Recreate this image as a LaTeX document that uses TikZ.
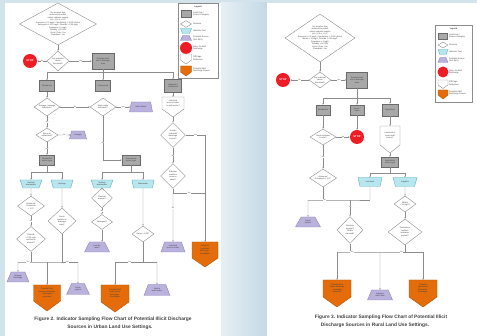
\documentclass[tikz,border=0pt]{standalone}
\usepackage{fontspec}
\setmainfont{Liberation Sans}
\usetikzlibrary{shapes.geometric,arrows.meta}

\definecolor{bgblue}{HTML}{D3E3EC}
\definecolor{gapl}{HTML}{E6EFF4}
\definecolor{gapr}{HTML}{C4D9E5}
\definecolor{linegray}{HTML}{8C8C8C}
\definecolor{txtgray}{HTML}{404040}
\definecolor{boxgray}{HTML}{A8A8A8}
\definecolor{boxedge}{HTML}{6A6A6A}
\definecolor{cyanfill}{HTML}{B8E6EE}
\definecolor{cyanedge}{HTML}{5DB3C6}
\definecolor{purplefill}{HTML}{BAB2DC}
\definecolor{purpleedge}{HTML}{8A82B8}
\definecolor{stopred}{HTML}{EE1C24}
\definecolor{orangefill}{HTML}{E46C0A}
\definecolor{orangeedge}{HTML}{B65508}

\newcommand{\nodefont}{\fontsize{2}{2.5}\selectfont}
\newcommand{\labfont}{\fontsize{1.8}{2}\selectfont}
\newcommand{\legfont}{\fontsize{2.1}{2.6}\selectfont}
\newcommand{\capfont}{\fontsize{4.85}{5.6}\selectfont\bfseries}
\newcommand{\stopfont}{\fontsize{2.6}{3}\selectfont\bfseries}

% shield: #1 name, #2 x, #3 top, #4 width, #5 body height, #6 point depth, #7 style, #8 text
\newcommand{\shieldnode}[8]{%
  \path[#7] ({#2-#4/2},#3) -- ({#2+#4/2},#3) -- ({#2+#4/2},{#3+#5})
    -- (#2,{#3+#5+#6}) -- ({#2-#4/2},{#3+#5}) -- cycle;
  \node[base, minimum width=#4pt, minimum height=#5pt, anchor=north] (#1) at (#2,#3) {#8};
  \coordinate (#1-tip) at (#2,{#3+#5+#6});
}

\tikzset{
  base/.style={inner sep=0pt, align=center, font=\nodefont, text=txtgray},
  sz/.style 2 args={minimum width=#1pt, minimum height=#2pt},
  procbox/.style={base, rectangle, fill=boxgray, draw=boxedge, line width=0.4pt},
  decision/.style={base, diamond, fill=white, draw=linegray, line width=0.4pt},
  dtext/.style={base},
  stopsign/.style={base, circle, fill=stopred, text=white, font=\stopfont, minimum size=14pt},
  landuse/.style={base, inner sep=0.2pt, trapezium, shape border rotate=180, trapezium stretches=true,
    trapezium left angle=65, trapezium right angle=65, fill=cyanfill, draw=cyanedge, line width=0.4pt},
  source/.style={base, inner sep=0.2pt, trapezium, trapezium stretches=true,
    trapezium left angle=60, trapezium right angle=60, fill=purplefill, draw=purpleedge, line width=0.4pt},
  orangeshield/.style={fill=orangefill, draw=orangeedge, line width=0.4pt},
  whiteshield/.style={fill=white, draw=linegray, line width=0.4pt},
  flow/.style={draw=linegray, line width=0.45pt, -{Stealth[length=1.6pt,width=1.4pt]}},
  plain/.style={draw=linegray, line width=0.45pt},
  yn/.style={font=\labfont, fill=white, inner sep=0.3pt, text=txtgray},
  legtext/.style={base, font=\legfont, anchor=west, align=left},
  capt/.style={font=\capfont, text=txtgray, inner sep=0pt},
}

\begin{document}
\begin{tikzpicture}[x=1pt, y=-1pt]
\useasboundingbox (0,0) rectangle (477,336);
% page background and the two white panels
\fill[bgblue] (0,0) rectangle (477,336);
\shade[left color=gapl, right color=gapr] (221,3) rectangle (267,336);
\fill[white] (5,3) rectangle (221,336);
\fill[white] (267,3) rectangle (477,336);

% ================= Urban land use chart =================
\node[decision, sz={77}{42}] (D0) at (58,24) {};
\node[dtext] at (D0) {Dry weather flow\\observed at outfall;\\collect indicator sample\\pH < 6.5 or > 8.5\\Ammonia > 0.5 mg/L; Conductivity > 2,000 µS/cm\\Detergents > 0.25 mg/L; Fluoride > 0.25 mg/L\\Potassium > 5 mg/L\\Turbidity > 50 NTU\\Color / Odor: Yes\\Floatables: Yes};
\node[decision, sz={22}{20}] (D1) at (58,61) {};
\node[dtext] at (D1) {Any indicator\\above\\threshold?};
\node[stopsign] (S0) at (30,61) {STOP};
\node[procbox, sz={22}{16}] (B0) at (103,61) {Evaluate land\\use in drainage\\area};
\coordinate (j1) at (103,72);
\node[procbox, sz={15}{11}] (B1) at (47,86) {Residential};
\node[procbox, sz={15}{11}] (B2) at (103,86) {Commercial};
\node[procbox, sz={17}{13}] (B3) at (173,86) {Industrial /\\Institutional};

\node[decision, sz={26}{18}] (D2) at (47,107) {};
\node[dtext] at (D2) {Sewage / septage\\indicators?};
\node[decision, sz={26}{18}] (D3) at (103,107) {};
\node[dtext] at (D3) {Wash water\\indicators?};
\node[source, sz={23}{10}] (P1) at (141,107) {Wash Water};
\shieldnode{S1}{173}{97}{22}{12}{8}{whiteshield}{Industrial\\process water\\or spill source?}

\node[decision, sz={22}{14}] (D4) at (47,135) {};
\node[dtext] at (D4) {Boron or\\surfactants?};
\node[source, sz={17}{8}] (P2) at (78,135) {Sewage};
\node[procbox, sz={15}{10}] (B4) at (47,160) {Residential\\source type};
\coordinate (j2) at (47,172);
\node[landuse, sz={22}{8}] (C1) at (31,184) {Sanitary\\wastewater};
\node[landuse, sz={22}{8}] (C2) at (62,184) {Septage};

\node[procbox, sz={18}{10}] (B5) at (131,160) {Commercial\\source type};
\coordinate (j4) at (131,172);
\node[landuse, sz={22}{8}] (C3) at (102,184) {Sanitary\\wastewater};
\node[landuse, sz={22}{8}] (C4) at (143,184) {Washwater};

\node[decision, sz={25}{25}] (D5) at (173,135) {};
\node[dtext] at (D5) {Known\\industrial\\discharge\\in area?};
\node[decision, sz={25}{25}] (D6) at (173,176) {};
\node[dtext] at (D6) {Indicator\\matches\\process\\water?};
\coordinate (k1) at (173,193);
\node[source, sz={24}{10}] (P7) at (173,247) {Industrial\\process water};
\shieldnode{O3}{205}{242}{26}{16}{9}{orangeshield}{Potential\\industrial\\discharge -\\investigate}

\node[decision, sz={27}{20}] (D7) at (31,206) {};
\node[dtext] at (D7) {Ammonia/\\Potassium\\> 1.0?};
\node[decision, sz={29}{25}] (D8) at (31,239) {};
\node[dtext] at (D8) {Fluoride\\> 0.25 mg/L\\and boron\\present?};
\node[decision, sz={28}{26}] (D9) at (62,221) {};
\node[dtext] at (D9) {Septic\\systems in\\drainage\\area?};
\node[decision, sz={21}{20}] (D10) at (102,198) {};
\node[dtext] at (D10) {Fluoride\\present?};
\node[decision, sz={21}{15}] (D11) at (102,222) {};
\node[dtext] at (D11) {Detergent?};
\node[source, sz={25}{10}] (P3) at (97,247) {Laundry\\water};
\node[decision, sz={22}{16}] (D12) at (143,234) {};
\node[dtext] at (D12) {Boron > 0.35?};

\coordinate (j3a) at (18,262);
\coordinate (j3b) at (47,262);
\coordinate (j3c) at (78,262);
\node[source, sz={22}{10}] (P4) at (18,277) {Sewage\\discharge};
\shieldnode{O1}{47}{285}{27}{16}{10}{orangeshield}{Potential illicit\\sewage discharge\\- investigate\\upstream}
\node[source, sz={23}{11}] (P5) at (78,289) {Septic\\system};
\coordinate (j5a) at (115,262);
\coordinate (j5b) at (157,262);
\shieldnode{O2}{115}{285}{28}{17}{10}{orangeshield}{Potential illicit\\wash water\\discharge -\\investigate}
\node[source, sz={26}{11}] (P6) at (157,290) {Vehicle\\wash water};

% urban connectors
\draw[flow] (D0.south) -- (D1.north);
\draw[flow] (D1.west) -- node[yn]{No} (S0.east);
\draw[flow] (D1.east) -- node[yn]{Yes} (B0.west);
\draw[plain] (B0.south) -- (j1);
\draw[flow] (j1) -| (B1.north);
\draw[flow] (j1) -- (B2.north);
\draw[flow] (j1) -| (B3.north);
\draw[flow] (B1.south) -- (D2.north);
\draw[flow] (D2.east) -- node[yn]{No} (D3.west);
\draw[flow] (D3.east) -- node[yn]{Yes} (P1.west);
\draw[flow] (B3.south) -- (S1.north);
\draw[flow] (S1-tip) -- (D5.north);
\draw[flow] (D2.south) -- node[yn]{Yes} (D4.north);
\draw[flow] (D4.east) -- node[yn]{No} (P2.west);
\draw[flow] (D4.south) -- node[yn]{Yes} (B4.north);
\draw[plain] (B4.south) -- (j2);
\draw[flow] (j2) -| (C1.north);
\draw[flow] (j2) -| (C2.north);
\draw[flow] (D3.south) |- node[yn,pos=0.3]{No} (B5.west);
\draw[plain] (B5.south) -- (j4);
\draw[flow] (j4) -| (C3.north);
\draw[flow] (j4) -| (C4.north);
\draw[flow] (D5.east) -| node[yn,pos=0.25]{Yes} (O3.north);
\draw[flow] (D5.south) -- node[yn]{No} (D6.north);
\draw[plain] (D6.south) -- (k1);
\draw[plain] (k1) -- node[yn]{Yes} (k1 -| O3.north);
\draw[flow] (k1) -- node[yn,pos=0.3]{No} (P7.north);
\draw[flow] (C1.south) -- (D7.north);
\draw[flow] (D7.south) -- node[yn]{No} (D8.north);
\draw[plain] (D8.south) -- (D8.south |- j3a);
\draw[flow] (C2.south) -- (D9.north);
\draw[plain] (D9.south) -- (D9.south |- j3a);
\draw[plain] (j3a) -- node[yn,pos=0.35]{Yes} (j3b) -- node[yn,pos=0.65]{No} (j3c);
\draw[flow] (j3a) -- (P4.north);
\draw[flow] (j3b) -- (O1.north);
\draw[flow] (j3c) -- (P5.north);
\draw[flow] (C3.south) -- (D10.north);
\draw[flow] (D10.south) -- node[yn]{No} (D11.north);
\draw[flow] (D11.south) -- (D11.south |- P3.north);
\draw[flow] (C4.south) -- (D12.north);
\draw[plain] (D12.south) -- (D12.south |- j5a);
\draw[plain] (j5a) -- node[yn,pos=0.35]{Yes} (j5b);
\draw[flow] (j5a) -- (O2.north);
\draw[flow] (j5b) -- (P6.north);

% urban legend
\draw[linegray, line width=0.4pt, fill=white] (178,3) rectangle (218,78);
\node[base, font=\legfont\bfseries] (lgt1) at (198,7) {Legend};
\node[procbox, sz={10}{7}] (lga1) at (186,14) {};
\node[legtext] at (193,14) {Land Use /\\Source Category};
\node[decision, sz={11}{7}] (lga2) at (186,24) {};
\node[legtext] at (193,24) {Decision};
\node[landuse, sz={11}{5}] (lga3) at (186,31) {\phantom{.}};
\node[legtext] at (193,31) {Indicator Test};
\node[source, sz={11}{5}] (lga4) at (186,38) {\phantom{.}};
\node[legtext] at (193,38.5) {Potential Source\\(Not Illicit)};
\node[stopsign, minimum size=12pt] (lga5) at (186,48) {};
\node[legtext] at (193,48) {Stop: No Illicit\\Discharge};
\shieldnode{lga6}{186}{54}{11}{6}{4}{whiteshield}{}
\node[legtext] at (193,58) {Off-Page\\Reference};
\shieldnode{lga7}{186}{66}{11}{6}{4}{orangeshield}{}
\node[legtext] at (193,70) {Potential Illicit\\Discharge Source};

\node[capt] (cap1) at (113,319) {Figure 2. Indicator Sampling Flow Chart of Potential Illicit Discharge};
\node[capt] (cap2) at (110,327) {Sources in Urban Land Use Settings.};

% ================= Rural land use chart =================
\node[decision, sz={70}{48}] (E0) at (320,38) {};
\node[dtext] at (E0) {Dry weather flow\\observed at outfall;\\collect indicator sample\\pH < 6.5 or > 8.5\\Ammonia > 0.5 mg/L; Conductivity > 2,000 µS/cm\\Nitrate > 10 mg/L; Fluoride > 0.25 mg/L\\Potassium > 5 mg/L\\Turbidity > 50 NTU\\Color / Odor: Yes\\Floatables: Yes};
\node[decision, sz={22}{16}] (E1) at (320,80) {};
\node[dtext] at (E1) {Any indicator\\above\\threshold?};
\node[stopsign] (S2) at (283,80) {STOP};
\node[procbox, sz={21}{16}] (R0) at (357,80) {Evaluate land\\use in drainage\\area};
\coordinate (j6) at (357,98);
\node[procbox, sz={14}{10}] (R1) at (323,110) {Residential};
\node[procbox, sz={14}{10}] (R2) at (357,110) {Forest /\\Open};
\node[procbox, sz={16}{12}] (R3) at (390,110) {Agricultural};

\node[decision, sz={26}{16}] (E2) at (323,137) {};
\node[dtext] at (E2) {Septic systems\\in area?};
\node[stopsign] (S3) at (357,137) {STOP};
\shieldnode{S4}{390}{126}{20}{19}{8}{whiteshield}{Livestock or\\crop runoff\\source?}
\node[procbox, sz={17}{10}] (R4) at (390,162) {Agricultural\\source type};
\coordinate (j7) at (390,173);
\node[landuse, sz={24}{9}] (C5) at (370,182) {Livestock};
\node[landuse, sz={24}{9}] (C6) at (405,182) {Irrigation};

\node[decision, sz={27}{18}] (E3) at (323,178) {};
\node[dtext] at (E3) {Ammonia/\\Potassium > 1.0?};
\coordinate (j8a) at (308,200);
\coordinate (j8b) at (350,200);
\coordinate (j8c) at (370,200);
\node[source, sz={25}{10}] (P8) at (308,222) {Septic\\system};
\node[decision, sz={26}{27}] (E5) at (350,230) {};
\node[dtext] at (E5) {Bacteria\\present?\\Nitrate\\elevated?};
\node[decision, sz={22}{16}] (E4) at (405,204) {};
\node[dtext] at (E4) {Nitrate\\> 10 mg/L?};
\node[decision, sz={34}{26}] (E6) at (405,232) {};
\node[dtext] at (E6) {Pesticide or\\fertilizer\\indicators\\present?};

\coordinate (j9a) at (337,252);
\coordinate (j9b) at (380,252);
\coordinate (j9c) at (423,252);
\shieldnode{O4}{337}{280}{28}{17}{10}{orangeshield}{Potential illicit\\septic discharge\\- investigate\\upstream}
\node[source, sz={25}{10}] (P9) at (380,295) {Irrigation\\return flow};
\shieldnode{O5}{423}{280}{28}{17}{10}{orangeshield}{Potential\\agricultural\\discharge -\\investigate}

% rural connectors
\draw[flow] (E0.south) -- (E1.north);
\draw[flow] (E1.west) -- node[yn]{No} (S2.east);
\draw[flow] (E1.east) -- node[yn]{Yes} (R0.west);
\draw[plain] (R0.south) -- (j6);
\draw[flow] (j6) -| (R1.north);
\draw[flow] (j6) -- (R2.north);
\draw[flow] (j6) -| (R3.north);
\draw[flow] (R1.south) -- (E2.north);
\draw[flow] (R2.south) -- (S3.north);
\draw[flow] (E2.east) -- node[yn]{No} (S3.west);
\draw[flow] (E2.south) -- node[yn]{Yes} (E3.north);
\draw[flow] (R3.south) -- (S4.north);
\draw[flow] (S4-tip) -- (R4.north);
\draw[plain] (R4.south) -- (j7);
\draw[flow] (j7) -| (C5.north);
\draw[flow] (j7) -| (C6.north);
\draw[plain] (E3.south) -- (E3.south |- j8a);
\draw[plain] (C5.south) -- (j8c);
\draw[plain] (j8a) -- node[yn,pos=0.4]{No} (j8b) -- (j8c);
\draw[flow] (j8a) -- (P8.north);
\draw[flow] (j8b) -- node[yn,pos=0.4]{Yes} (E5.north);
\draw[flow] (C6.south) -- (E4.north);
\draw[flow] (E4.south) -- (E6.north);
\draw[plain] (E5.south) -- (E5.south |- j9a);
\draw[plain] (E6.south) -- (E6.south |- j9a);
\draw[plain] (j9a) -- node[yn,pos=0.35]{Yes} (j9b) -- node[yn,pos=0.5]{No} (j9c);
\draw[flow] (j9a) -- (O4.north);
\draw[flow] (j9b) -- (P9.north);
\draw[flow] (j9c) -- (O5.north);

% rural legend
\draw[linegray, line width=0.4pt, fill=white] (435,25) rectangle (472,102);
\node[base, font=\legfont\bfseries] (lgt2) at (453.5,29) {Legend};
\node[procbox, sz={9}{6}] (lgb1) at (443,36) {};
\node[legtext] at (449,36) {Land Use /\\Source Category};
\node[decision, sz={10}{6}] (lgb2) at (443,45) {};
\node[legtext] at (449,45) {Decision};
\node[landuse, sz={10}{5}] (lgb3) at (443,52) {\phantom{.}};
\node[legtext] at (449,52) {Indicator Test};
\node[source, sz={10}{5}] (lgb4) at (443,60) {\phantom{.}};
\node[legtext] at (449,60) {Potential Source\\(Not Illicit)};
\node[stopsign, minimum size=11pt] (lgb5) at (443,72) {};
\node[legtext] at (449,72) {Stop: No Illicit\\Discharge};
\shieldnode{lgb6}{443}{80}{10}{5}{3.5}{whiteshield}{}
\node[legtext] at (449,83) {Off-Page\\Reference};
\shieldnode{lgb7}{443}{90}{10}{5}{4}{orangeshield}{}
\node[legtext] at (449,93) {Potential Illicit\\Discharge Source};

\node[capt] (cap3) at (381,317) {Figure 3. Indicator Sampling Flow Chart of Potential Illicit};
\node[capt] (cap4) at (375,325) {Discharge Sources in Rural Land Use Settings.};
\end{tikzpicture}
\end{document}
